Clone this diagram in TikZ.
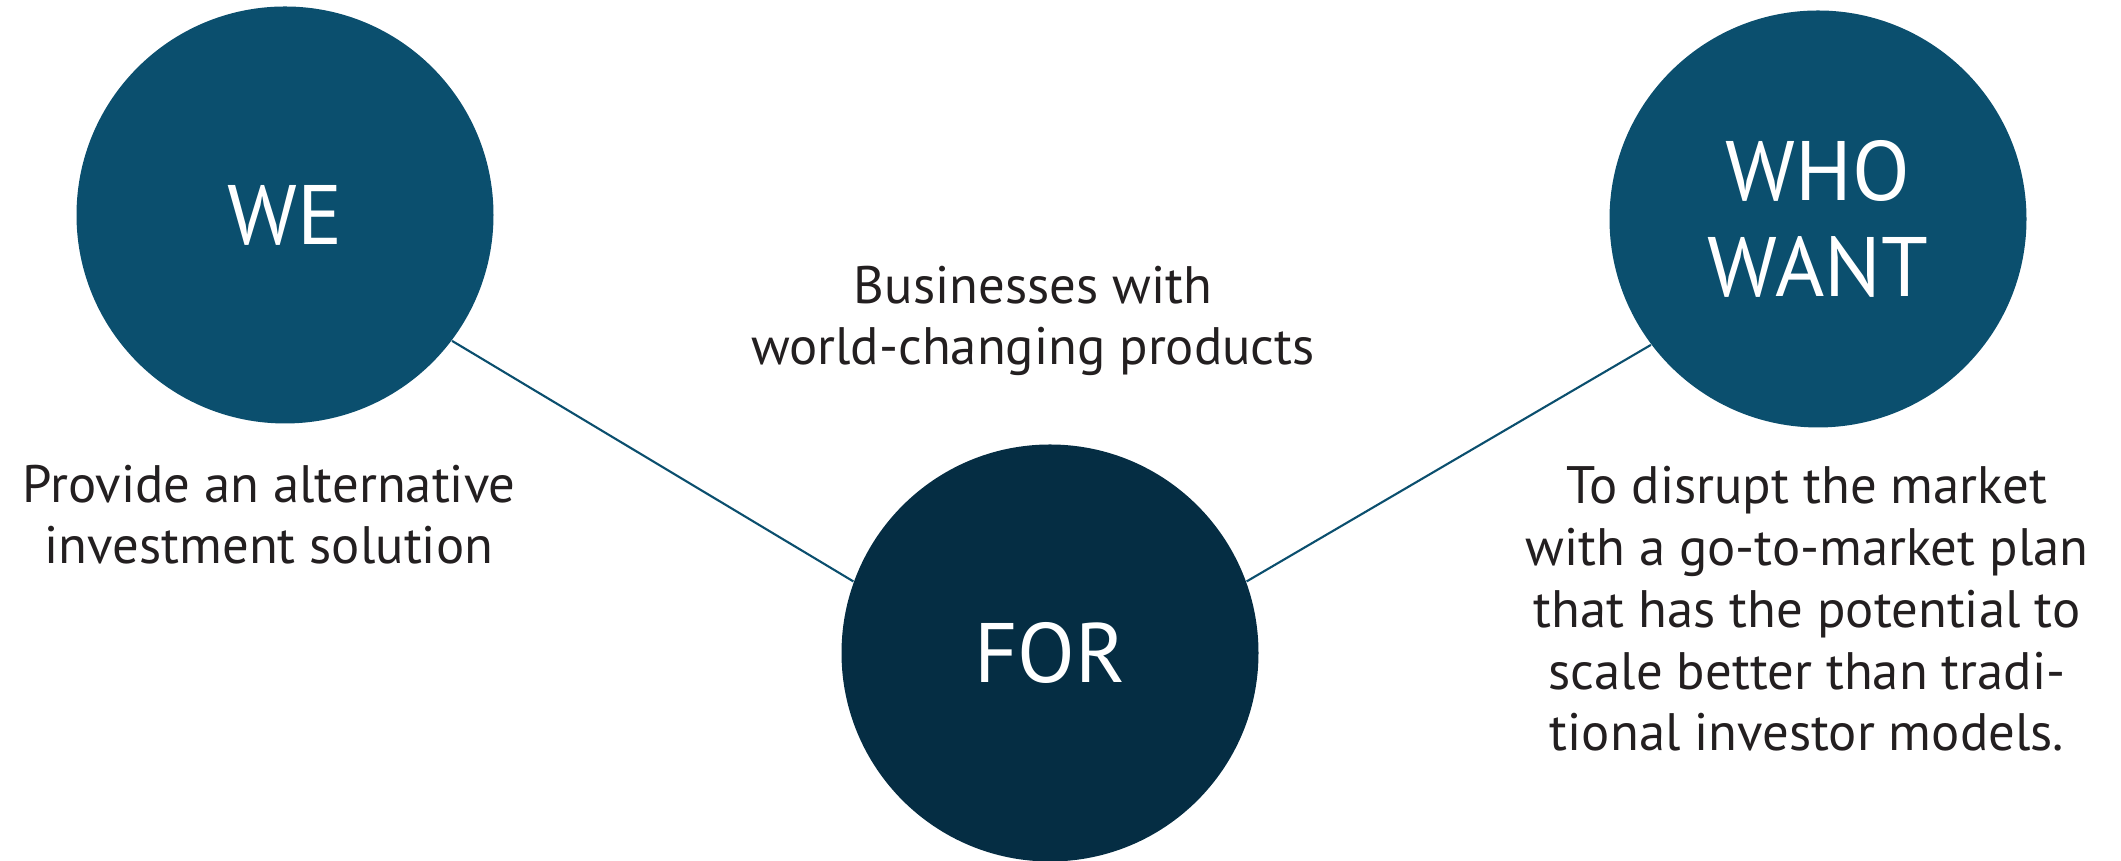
\documentclass[tikz,border=0pt]{standalone}
\usepackage{fontspec}
\setmainfont{PT Sans}
\begin{document}
\begin{tikzpicture}
\pgfmathsetlengthmacro\radius{2.085cm};
\definecolor{wecolor}{HTML}{0B4F6E}
\definecolor{forcolor}{HTML}{052D43}
\definecolor{textcolor}{HTML}{231F20}
\tikzset{disk/.style = {circle, minimum size = 2*\radius, inner sep = 0, text = white, font = \fontsize{24}{25.9}\selectfont, align = center},
  words/.style = {anchor = base, text = textcolor, font = \fontsize{15}{17.6}\selectfont, align = center, inner sep = 0}}
\useasboundingbox (0,0) rectangle (21.21,8.61);
\node[disk, fill = wecolor] (we) at (2.85,6.46) {WE};
\node[disk, fill = forcolor] (for) at (10.5,2.08) {FOR};
\node[disk, fill = wecolor] (who) at (18.18,6.42) {WHO\\[0.05cm]WANT};
\draw [draw = wecolor, line width = 0.6pt] (we.-37) -- (for.160);
\draw [draw = wecolor, line width = 0.6pt] (for.20) -- (who.217);
\node[words] (biz) at (10.33,4.96) {Businesses with\\world-changing products};
\node[words] (provide) at (2.69,2.97) {Provide an alternative\\investment solution};
\node[words] (disrupt) at (18.07,1.10) {To disrupt the market\\with a go-to-market plan\\that has the potential to\\scale better than tradi-\\tional investor models.};
\end{tikzpicture}
\end{document}
